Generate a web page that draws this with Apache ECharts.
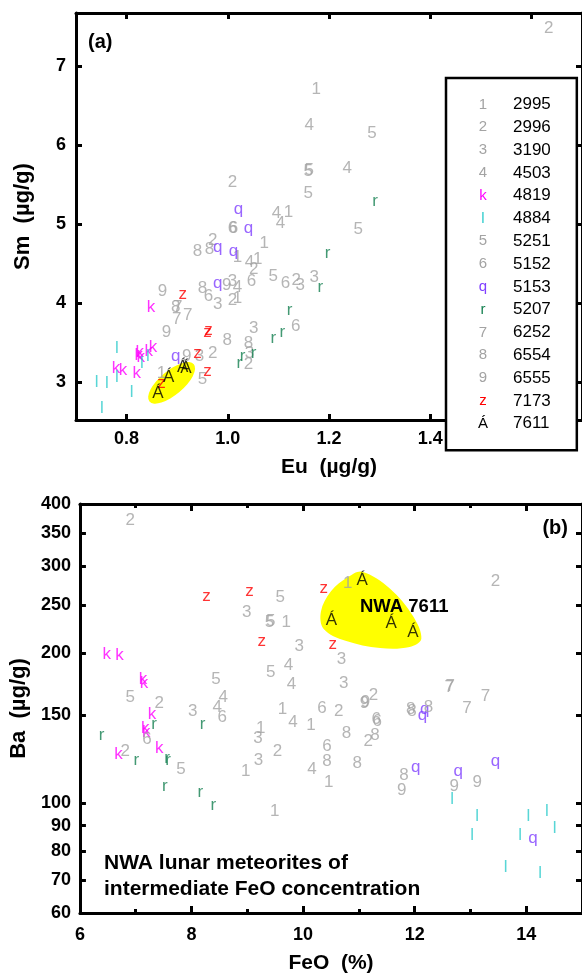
<!DOCTYPE html>
<html><head><meta charset="utf-8">
<script src="https://cdn.jsdelivr.net/npm/echarts@6/dist/echarts.min.js"></script>
<style>html,body{margin:0;padding:0;background:#fff}#c{width:582px;height:977px}</style>
</head><body><div id="c"></div>
<script>
// ---------- categories ----------
const meteorites = ['2995','2996','3190','4503','4819','4884','5251','5152','5153','5207','6252','6554','6555','7173','7611'];
const symbolChars = ['1','2','3','4','k','l','5','6','q','r','7','8','9','z','Á'];
const GREY = '#a3a3a3';
const symbolColors = [GREY,GREY,GREY,GREY,'#ff00ff','#2ecccc',GREY,GREY,'#8040ff','#148050',GREY,GREY,GREY,'#ff0000','#000000'];

// ---------- panel (a): [Eu, Sm] (µg/g) ----------
const a2995 = [[1.175,6.71],[1.120,5.15],[1.072,4.76],[1.019,4.58],[1.059,4.55],[1.019,4.06],[0.869,3.11]];
const a2996 = [[1.634,7.48],[1.009,5.53],[0.970,4.79],[1.051,4.43],[1.135,4.29],[1.009,4.03],[0.970,3.37],[1.041,3.23]];
const a3190 = [[1.143,4.22],[1.171,4.32],[1.009,4.27],[0.980,3.98],[1.051,3.68],[1.043,3.36],[0.944,3.33]];
const a4503 = [[1.161,6.25],[1.236,5.71],[1.096,5.14],[1.104,5.01],[1.043,4.51],[1.019,4.20]];
const a4819 = [[0.848,3.95],[0.852,3.44],[0.844,3.39],[0.826,3.38],[0.824,3.34],[0.828,3.31],[0.779,3.18],[0.793,3.15],[0.820,3.11]];
const a4884 = [[0.781,3.43],[0.842,3.32],[0.830,3.24],[0.781,3.06],[0.741,3.00],[0.761,2.99],[0.810,2.87],[0.751,2.67]];
const a5251 = [[1.159,5.67],[1.161,5.68],[1.285,6.15],[1.159,5.39],[1.258,4.93],[1.090,4.34],[0.950,3.03]];
const a5152 = [[1.009,4.94],[1.011,4.95],[1.047,4.28],[1.114,4.25],[0.962,4.09],[1.134,3.70]];
const a5153 = [[1.021,5.18],[1.041,4.95],[0.980,4.71],[1.011,4.66],[0.980,4.25],[0.897,3.33]];
const a5207 = [[1.291,5.29],[1.197,4.63],[1.183,4.20],[1.122,3.91],[1.108,3.63],[1.090,3.55],[1.051,3.36],[1.029,3.32],[1.023,3.24]];
const a6252 = [[0.901,3.95],[0.921,3.85],[0.899,3.79]];
const a6554 = [[0.940,4.65],[0.964,4.68],[0.950,4.19],[0.897,3.95],[0.999,3.53],[1.041,3.49]];
const a6555 = [[0.871,4.15],[0.998,4.23],[0.879,3.63],[0.919,3.32]];
const a7173 = [[0.911,4.11],[0.960,3.63],[0.962,3.65],[0.940,3.37],[0.960,3.14],[0.869,2.99]];
const a7611 = [[0.862,2.86],[0.883,3.06],[0.911,3.19],[0.917,3.17]];

// ---------- panel (b): [FeO %, Ba µg/g] ----------
const b2995 = [[9.70,231],[10.80,277],[9.63,154],[10.14,143],[9.24,141],[8.97,116],[9.49,96],[10.46,110]];
const b2996 = [[6.90,370],[13.45,279],[7.42,159],[6.81,127],[9.54,127],[11.26,165],[10.64,153],[11.17,133]];
const b3190 = [[8.99,242],[9.93,207],[10.69,195],[10.73,174],[8.02,153],[9.19,135],[9.20,122]];
const b4503 = [[8.57,163],[9.74,189],[9.79,173],[8.46,156],[9.82,145],[10.16,117]];
const b4819 = [[6.48,199],[6.71,198],[7.13,177],[7.15,174],[7.29,151],[7.17,141],[7.19,139],[7.42,129],[6.69,125]];
const b4884 = [[12.67,101.5],[13.12,94],[13.03,86],[14.04,94],[14.37,96],[14.51,89],[13.89,86],[13.63,74],[14.25,72]];
const b5251 = [[9.59,260],[9.40,231],[9.42,232],[9.42,183],[8.44,177],[6.90,163],[7.81,117]];
const b5152 = [[8.55,149],[7.20,134],[10.34,155],[11.31,147],[11.33,146],[10.43,130]];
const b5153 = [[12.18,154],[12.14,150],[12.02,118],[12.78,116],[13.45,121],[14.12,85]];
const b5207 = [[6.39,137],[7.33,144],[8.20,144],[7.01,122],[7.56,123],[7.58,122],[7.52,108],[8.16,105],[8.39,99]];
const b6252 = [[12.62,171],[12.64,172],[13.27,164],[12.94,155]];
const b6554 = [[11.93,154],[11.95,153],[12.25,156],[10.78,138],[11.29,137],[10.43,121],[10.97,120],[11.81,113.5]];
const b6555 = [[11.10,159],[11.12,159.5],[11.77,106],[12.71,108],[13.12,110]];
const b7173 = [[8.27,261],[9.04,267],[9.26,212],[10.37,271],[10.53,209]];
const b7611 = [[11.06,281],[10.51,233],[11.58,230],[11.97,221]];

// ---------- highlight regions (data coordinates) ----------
const highlightA = [[0.889, 2.99]];
const highlightB = [[11.06,292],[11.56,270],[11.97,238],[12.12,214],[11.91,206],[11.38,205],[10.76,212],[10.37,224],[10.32,243],[10.50,267],[10.81,285]];

// ---------- axes ----------
const euRange = [0.7, 1.7];
const smRange = [2.52, 7.67];
const feoRange = [6, 15];
const baRange = [60, 400];
const euTicks = [0.8, 1.0, 1.2, 1.4, 1.6];
const smTicks = [3, 4, 5, 6, 7];
const feoMajor = [6, 8, 10, 12, 14];
const feoMinor = [7, 9, 11, 13];
const baTicks = [60, 70, 80, 90, 100, 150, 200, 250, 300, 350, 400];

const panelA = [a2995,a2996,a3190,a4503,a4819,a4884,a5251,a5152,a5153,a5207,a6252,a6554,a6555,a7173,a7611];
const panelB = [b2995,b2996,b3190,b4503,b4819,b4884,b5251,b5152,b5153,b5207,b6252,b6554,b6555,b7173,b7611];

const FONT = 'Liberation Sans';
const line = {lineStyle: {color: '#000', width: 3}};
function tick(vals, len) { return {show: true, inside: true, length: len, customValues: vals, lineStyle: {color: '#000', width: 3}}; }
function lab(vals, margin, fmt) {
  return {show: true, customValues: vals, margin: margin, color: '#000', fontSize: 18, fontWeight: 'bold', fontFamily: FONT, formatter: fmt};
}
const nameStyleX = {color: '#000', fontSize: 21, fontWeight: 'bold', fontFamily: FONT};
const nameStyleY = {color: '#000', fontSize: 22, fontWeight: 'bold', fontFamily: FONT};
const noLab = {show: false};

const xAxis = [
  {gridIndex: 0, type: 'value', position: 'bottom', min: euRange[0], max: euRange[1], axisLine: line,
   axisTick: tick(euTicks, 6), axisLabel: lab(euTicks, 10, v => v.toFixed(1)), splitLine: {show: false},
   name: 'Eu  (µg/g)', nameLocation: 'middle', nameGap: 37, nameTextStyle: nameStyleX},
  {gridIndex: 0, type: 'value', position: 'top', min: euRange[0], max: euRange[1], axisLine: line,
   axisTick: tick(euTicks, 6), axisLabel: noLab, splitLine: {show: false}},
  {gridIndex: 1, type: 'value', position: 'bottom', min: feoRange[0], max: feoRange[1], axisLine: line,
   axisTick: tick(feoMajor, 7), axisLabel: lab(feoMajor, 13), splitLine: {show: false},
   name: 'FeO  (%)', nameLocation: 'middle', nameGap: 40, nameTextStyle: nameStyleX},
  {gridIndex: 1, type: 'value', position: 'bottom', min: feoRange[0], max: feoRange[1], axisLine: {show: false},
   axisTick: tick(feoMinor, 4), axisLabel: noLab, splitLine: {show: false}},
  {gridIndex: 1, type: 'value', position: 'top', min: feoRange[0], max: feoRange[1], axisLine: line,
   axisTick: tick(feoMajor, 7), axisLabel: noLab, splitLine: {show: false}},
  {gridIndex: 1, type: 'value', position: 'top', min: feoRange[0], max: feoRange[1], axisLine: {show: false},
   axisTick: tick(feoMinor, 4), axisLabel: noLab, splitLine: {show: false}}
];
const yAxis = [
  {gridIndex: 0, type: 'value', position: 'left', min: smRange[0], max: smRange[1], axisLine: line,
   axisTick: tick(smTicks, 6), axisLabel: lab(smTicks, 10), splitLine: {show: false},
   name: 'Sm  (µg/g)', nameLocation: 'middle', nameGap: 42, nameRotate: 90, nameTextStyle: nameStyleY},
  {gridIndex: 0, type: 'value', position: 'right', min: smRange[0], max: smRange[1], axisLine: line,
   axisTick: tick(smTicks, 6), axisLabel: noLab, splitLine: {show: false}},
  {gridIndex: 1, type: 'log', logBase: 10, position: 'left', min: baRange[0], max: baRange[1], axisLine: line,
   axisTick: tick(baTicks, 6), axisLabel: lab(baTicks, 9), splitLine: {show: false}, minorTick: {show: false},
   name: 'Ba  (µg/g)', nameLocation: 'middle', nameGap: 44, nameRotate: 90, nameTextStyle: nameStyleY},
  {gridIndex: 1, type: 'log', logBase: 10, position: 'right', min: baRange[0], max: baRange[1], axisLine: line,
   axisTick: tick(baTicks, 6), axisLabel: noLab, splitLine: {show: false}}
];

const series = [];
series.push({
  type: 'custom', name: 'hlA', xAxisIndex: 0, yAxisIndex: 0, z: 1, silent: true, data: highlightA,
  renderItem: function (params, api) {
    const c = api.coord([api.value(0), api.value(1)]);
    return {type: 'circle', shape: {cx: 0, cy: 0, r: 1}, x: c[0], y: c[1], scaleX: 29, scaleY: 12, rotation: 0.70,
            style: {fill: '#ffff00', stroke: null}};
  }
});
series.push({
  type: 'custom', name: 'hlB', xAxisIndex: 2, yAxisIndex: 2, z: 1, silent: true, data: [highlightB[0]],
  renderItem: function (params, api) {
    const pts = highlightB.map(p => api.coord(p));
    return {type: 'polygon', shape: {points: pts, smooth: 0.35}, style: {fill: '#ffff00'}};
  }
});
meteorites.forEach((m, i) => {
  const common = {
    type: 'scatter', name: m, symbol: 'circle', symbolSize: 1, silent: true, z: 3,
    itemStyle: {color: 'rgba(0,0,0,0)'},
    label: {show: true, position: 'inside', formatter: symbolChars[i], color: symbolColors[i],
            fontSize: 17, fontFamily: FONT},
    emphasis: {disabled: true}
  };
  series.push(Object.assign({}, common, {xAxisIndex: 0, yAxisIndex: 0, data: panelA[i]}));
  series.push(Object.assign({}, common, {xAxisIndex: 2, yAxisIndex: 2, data: panelB[i]}));
});

const rich = {t: {color: '#000', fontSize: 17, fontFamily: FONT, padding: [0, 0, 0, 22], lineHeight: 18}};
meteorites.forEach((m, i) => {
  rich['s' + i] = {color: symbolColors[i], fontSize: 15, fontFamily: FONT, width: 16, align: 'center', lineHeight: 18};
});

const option = {
  animation: false,
  backgroundColor: '#fff',
  grid: [
    {left: 76, top: 13, width: 508, height: 407},
    {left: 76, top: 504, width: 508, height: 409}
  ],
  xAxis: xAxis,
  yAxis: yAxis,
  legend: {
    orient: 'vertical', left: 446, top: 78, icon: 'none', itemWidth: 1, itemHeight: 10, itemGap: 5.8,
    padding: [18, 26, 18, 23], borderColor: '#000', borderWidth: 2.5, backgroundColor: '#fff',
    selectedMode: false, data: meteorites,
    formatter: function (name) { const i = meteorites.indexOf(name); return '{s' + i + '|' + symbolChars[i] + '}{t|' + name + '}'; },
    textStyle: {rich: rich}
  },
  graphic: [
    {type: 'text', z: 100, x: 88, y: 42, style: {text: '(a)', fill: '#000', fontSize: 20, fontWeight: 'bold', fontFamily: FONT, align: 'left', verticalAlign: 'middle'}},
    {type: 'text', z: 100, x: 568, y: 528, style: {text: '(b)', fill: '#000', fontSize: 20, fontWeight: 'bold', fontFamily: FONT, align: 'right', verticalAlign: 'middle'}},
    {type: 'text', z: 100, x: 360, y: 607, style: {text: 'NWA 7611', fill: '#000', fontSize: 18.5, fontWeight: 'bold', fontFamily: FONT, align: 'left', verticalAlign: 'middle'}},
    {type: 'text', z: 100, x: 104, y: 850, style: {text: 'NWA lunar meteorites of\nintermediate FeO concentration', fill: '#000', fontSize: 21, lineHeight: 26, fontWeight: 'bold', fontFamily: FONT, align: 'left', verticalAlign: 'top'}}
  ],
  series: series
};
const chart = echarts.init(document.getElementById('c'), null, {renderer: 'canvas'});
chart.setOption(option);
</script></body></html>
